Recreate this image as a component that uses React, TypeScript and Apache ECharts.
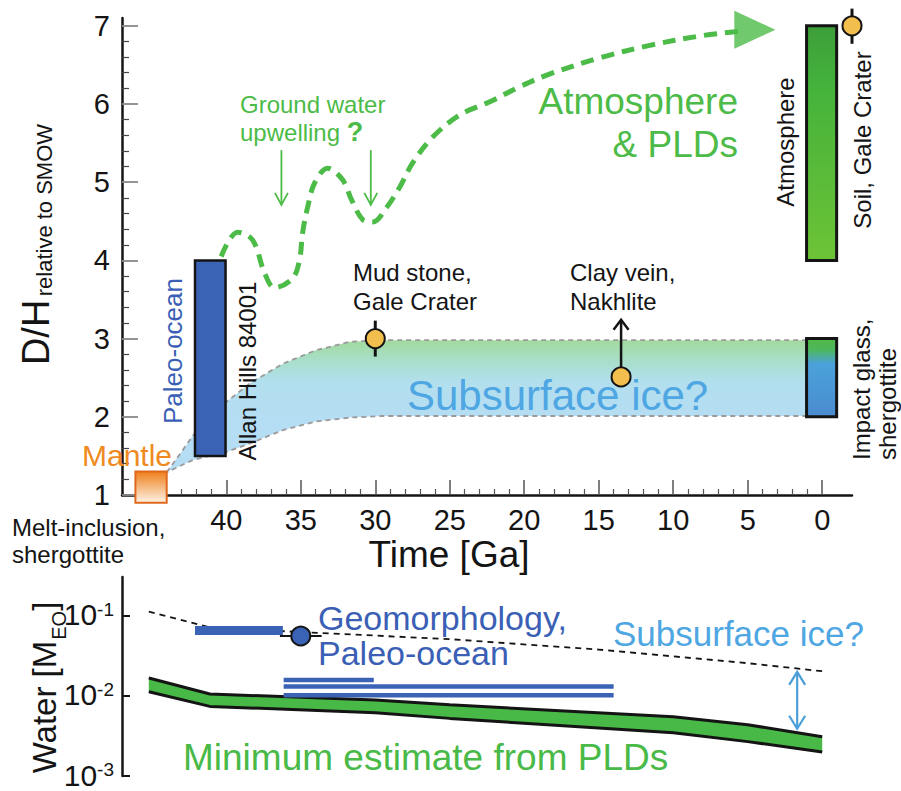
import React, { useEffect, useRef } from 'react';
import * as echarts from 'echarts';

const FONT = '"Liberation Sans", Arial, Helvetica, sans-serif';

// ================= TOP PANEL DATA (D/H relative to SMOW vs Time) =================
const timeTickLabels = [40, 35, 30, 25, 20, 15, 10, 5, 0];
const timeMinorTicks = [43, 42, 41, 39, 38, 37, 36, 34, 33, 32, 31, 29, 28, 27, 26, 24, 23, 22, 21, 19, 18, 17, 16, 14, 13, 12, 11, 9, 8, 7, 6, 4, 3, 2, 1];
const dhTickLabels = [1, 2, 3, 4, 5, 6, 7];
const dhMinorTicks = [1.2, 1.4, 1.6, 1.8, 2.2, 2.4, 2.6, 2.8, 3.2, 3.4, 3.6, 3.8, 4.2, 4.4, 4.6, 4.8, 5.2, 5.4, 5.6, 5.8, 6.2, 6.4, 6.6, 6.8];

// Reservoir boxes
const boxNames = ['Mantle', 'Paleo-ocean', 'Atmosphere', 'Impact glass'];
const boxAgeOld = [46.1, 42.1, 1.05, 1.05];
const boxAgeYoung = [44.0, 40.05, -0.97, -0.97];
const boxDHLow = [0.9, 1.5, 4.0, 2.0];
const boxDHHigh = [1.3, 4.0, 7.0, 3.0];

// Subsurface ice band
const iceBandAge = [44.0, 42.9, 42.2, 40.0, 38.4, 36.2, 34.0, 31.7, 29.5, 1.0];
const iceBandUpper = [1.29, 1.58, 1.77, 2.19, 2.43, 2.68, 2.85, 2.96, 2.98, 2.98];
const iceBandLower = [1.29, 1.39, 1.45, 1.55, 1.66, 1.83, 1.94, 1.99, 2.01, 2.01];

// Samples (circles)
const sampleNames = ['Mud stone, Gale Crater', 'Clay vein, Nakhlite', 'Soil, Gale Crater'];
const sampleAge = [30.0, 13.5, -2.0];
const sampleDH = [3.0, 2.51, 7.0];
const errAge = [30.0, -2.0];
const errLow = [2.77, 6.77];
const errHigh = [3.23, 7.22];

// Atmosphere & PLDs evolution path (dashed)
const pathAge = [40.34, 39.24, 38.23, 37.43, 36.76, 35.55, 35.08, 34.88, 34.54, 34.07, 33.2, 32.19, 31.58, 30.84, 30.17, 29.23, 28.35, 27.48, 26.13, 24.33, 22.31, 20.3, 18.49, 14.93, 11.57, 8.21, 5.53];
const pathDH = [4.05, 4.36, 4.26, 3.84, 3.65, 3.77, 4.01, 4.35, 4.68, 4.99, 5.18, 5.03, 4.77, 4.52, 4.49, 4.68, 4.94, 5.25, 5.58, 5.86, 6.03, 6.22, 6.37, 6.59, 6.75, 6.87, 6.93];
const pathTipAge = 3.18;
const pathTipDH = 6.95;

// Arrows (ground water upwelling x2, clay vein lower limit)
const arrowAge = [36.3, 30.3, 13.5];
const arrowFrom = [5.41, 5.41, 2.51];
const arrowTo = [4.71, 4.71, 3.24];

// ================= BOTTOM PANEL DATA (Water inventory) =================
const waterTicks = [0.001, 0.01, 0.1];
const pldAge = [45.2, 41.1, 30, 25, 10, 5, 0];
const pldUpper = [0.0168, 0.0106, 0.0089, 0.00776, 0.0055, 0.00437, 0.00309];
const pldLower = [0.0113, 0.00741, 0.00617, 0.00525, 0.00347, 0.00269, 0.002];
const totalAge = [45.2, 41.1, 35, 25, 15, 5, 0];
const totalWater = [0.113, 0.0718, 0.063, 0.0513, 0.038, 0.0257, 0.0204];
const geoBarAge = [42.1, 36.2];
const geoBarWater = 0.066;
const geoPointAge = 35.0;
const geoPointWater = 0.0562;
const geoPointErr = [36.4, 33.6];
const geoLineStart = [36.15, 36.15, 36.15];
const geoLineEnd = [30.1, 14.0, 14.0];
const geoLineWater = [0.0158, 0.0131, 0.0102];
const iceArrowAge = 1.68;
const iceArrowTop = 0.02;
const iceArrowBottom = 0.0039;

// ================= STYLES =================
const GREEN = '#4cbb47';
const BLUE = '#3a63b6';
const LIGHTBLUE = '#4ea6e2';
const ORANGE = '#ee8a22';
const BLACK = '#141414';

const lg = (stops: [number, string][]) =>
  new echarts.graphic.LinearGradient(0, 0, 0, 1, stops.map(([offset, color]) => ({ offset, color })));

const boxFills = [
  () => lg([[0, '#ef7f1a'], [1, '#fdf3e8']]),
  () => BLUE,
  () => lg([[0, '#3d9e3a'], [0.25, '#44b23b'], [1, '#6dc336']]),
  () => lg([[0, '#51b846'], [0.14, '#4db75c'], [0.32, '#4aa2da'], [1, '#4a8bcf']]),
];
const boxStrokes = ['#e0681c', BLACK, BLACK, BLACK];
const boxStrokeWidths = [2, 2.5, 3, 3];
const arrowColors = [GREEN, GREEN, BLACK];
const arrowWidths = [1.8, 1.8, 2.5];
const arrowHalfWidth = [6.5, 6.5, 7.5];
const arrowHeadLen = [12, 12, 10];

function arrowHead(tip: number[], ux: number, uy: number, len: number, hw: number) {
  const nx = -uy, ny = ux;
  return [
    [tip[0] - ux * len + nx * hw, tip[1] - uy * len + ny * hw],
    tip,
    [tip[0] - ux * len - nx * hw, tip[1] - uy * len - ny * hw],
  ];
}

function arrowShape(p0: number[], p1: number[], color: string, width: number, hw: number, len: number, both: boolean) {
  const dx = p1[0] - p0[0], dy = p1[1] - p0[1];
  const L = Math.hypot(dx, dy) || 1;
  const ux = dx / L, uy = dy / L;
  const st = { stroke: color, lineWidth: width, fill: 'none' };
  const children: any[] = [
    { type: 'line', shape: { x1: p0[0], y1: p0[1], x2: p1[0], y2: p1[1] }, style: st },
    { type: 'polyline', shape: { points: arrowHead(p1, ux, uy, len, hw) }, style: st },
  ];
  if (both) children.push({ type: 'polyline', shape: { points: arrowHead(p0, -ux, -uy, len, hw) }, style: st });
  return { type: 'group', children };
}

function txt(text: string, x: number, y: number, size: number, color: string, o: any = {}) {
  const align = o.align || 'left';
  const valign = o.valign || 'middle';
  return {
    type: 'text', x, y, rotation: o.rotation || 0, z: 50, silent: true,
    style: {
      text, fill: color, fontSize: size, fontFamily: FONT, fontWeight: o.weight || 'normal',
      align, verticalAlign: valign, textAlign: align, textVerticalAlign: valign,
      lineHeight: o.lineHeight, rich: o.rich,
    },
  };
}

function buildOption(): any {
  const axisLineStyle = { color: BLACK, width: 2.5 };
  const lineSeg = (xIdx: number, yIdx: number, data: number[][], color: string, width: number, type: any = 'solid', z = 4) => ({
    type: 'line', xAxisIndex: xIdx, yAxisIndex: yIdx, data, symbol: 'none', silent: true, z,
    lineStyle: { color, width, type, cap: 'butt' },
  });

  return {
    animation: false,
    backgroundColor: '#ffffff',
    textStyle: { fontFamily: FONT },
    grid: [
      { left: 122, top: 18, width: 730, height: 477, containLabel: false, outerBoundsMode: 'none' },
      { left: 122, top: 577, width: 730, height: 199, containLabel: false, outerBoundsMode: 'none' },
    ],
    xAxis: [
      {
        type: 'value', gridIndex: 0, min: -2, max: 47, inverse: true, position: 'bottom',
        name: 'Time [Ga]', nameLocation: 'middle', nameGap: 41, nameMoveOverlap: false,
        nameTextStyle: { fontSize: 37, color: BLACK, fontFamily: FONT, padding: [0, 76, 0, 0] },
        axisLine: { onZero: false, lineStyle: axisLineStyle },
        axisTick: { inside: true, length: 15, customValues: timeTickLabels, lineStyle: { color: '#555', width: 1.5 } },
        axisLabel: { customValues: timeTickLabels, fontSize: 29, color: BLACK, margin: 10, fontFamily: FONT },
        splitLine: { show: false },
      },
      {
        type: 'value', gridIndex: 0, min: -2, max: 47, inverse: true, position: 'bottom',
        axisLine: { show: false },
        axisTick: { inside: true, length: 6, customValues: timeMinorTicks, lineStyle: { color: '#555', width: 1.2 } },
        axisLabel: { show: false }, splitLine: { show: false },
      },
      { type: 'value', gridIndex: 1, min: -2, max: 47, inverse: true, show: false, splitLine: { show: false } },
    ],
    yAxis: [
      {
        type: 'value', gridIndex: 0, min: 1, max: 7.1, position: 'left',
        name: '{a|D/H} {b|relative to SMOW}', nameLocation: 'middle', nameRotate: 90, nameGap: 67, nameMoveOverlap: false,
        nameTextStyle: {
          color: BLACK, padding: [0, 0, 0, 24],
          rich: {
            a: { fontSize: 38, fontFamily: FONT, color: BLACK, verticalAlign: 'bottom' },
            b: { fontSize: 22, fontFamily: FONT, color: BLACK, verticalAlign: 'bottom' },
          },
        },
        axisLine: { onZero: false, lineStyle: axisLineStyle },
        axisTick: { inside: true, length: 16, customValues: dhTickLabels, lineStyle: { color: '#888', width: 1.8 } },
        axisLabel: { customValues: dhTickLabels, fontSize: 29, color: BLACK, margin: 12, fontFamily: FONT },
        splitLine: { show: false },
      },
      {
        type: 'value', gridIndex: 0, min: 1, max: 7.1, position: 'left',
        axisLine: { show: false, onZero: false },
        axisTick: { inside: true, length: 7, customValues: dhMinorTicks, lineStyle: { color: '#444', width: 1.2 } },
        axisLabel: { show: false }, splitLine: { show: false },
      },
      {
        type: 'log', logBase: 10, gridIndex: 1, min: 0.001, max: 0.307, position: 'left',
        name: '{a|Water [M}{s|EO}{a|]}', nameLocation: 'middle', nameRotate: 90, nameGap: 60, nameMoveOverlap: false,
        nameTextStyle: {
          color: BLACK, padding: [0, 22, 0, 0],
          rich: {
            a: { fontSize: 33, lineHeight: 34, fontFamily: FONT, color: BLACK, verticalAlign: 'top' },
            s: { fontSize: 20, lineHeight: 20, fontFamily: FONT, color: BLACK, verticalAlign: 'top', padding: [21, 0, 0, 1] },
          },
        },
        axisLine: { onZero: false, lineStyle: axisLineStyle },
        axisTick: { inside: true, length: 8, customValues: waterTicks, lineStyle: { color: BLACK, width: 2 } },
        axisLabel: {
          customValues: waterTicks, margin: 8,
          formatter: (v: number) => `{b|10}{s|${Math.round(Math.log10(v))}}`,
          rich: {
            b: { fontSize: 30, lineHeight: 32, fontFamily: FONT, color: BLACK, verticalAlign: 'top' },
            s: { fontSize: 19, lineHeight: 20, fontFamily: FONT, color: BLACK, verticalAlign: 'top' },
          },
        },
        splitLine: { show: false },
      },
    ],
    series: [
      // --- Subsurface ice band
      {
        type: 'custom', xAxisIndex: 0, yAxisIndex: 0, z: 1, silent: true,
        data: [[iceBandAge[0], iceBandUpper[0]]],
        renderItem: (_p: any, api: any) => {
          const up = iceBandAge.map((a, k) => api.coord([a, iceBandUpper[k]]));
          const lo = iceBandAge.map((a, k) => api.coord([a, iceBandLower[k]])).reverse();
          const y3 = api.coord([0, 3])[1];
          const y2 = api.coord([0, 2])[1];
          return {
            type: 'polygon', shape: { points: up.concat(lo) },
            style: {
              fill: new echarts.graphic.LinearGradient(0, y3, 0, y2, [
                { offset: 0, color: '#a1d99a' }, { offset: 0.3, color: '#a9dfcc' },
                { offset: 0.55, color: '#b2dfee' }, { offset: 1, color: '#b5ddf3' },
              ], true),
              stroke: '#9a9a9a', lineWidth: 1.8, lineDash: [5, 4],
            },
          };
        },
      },
      // --- Reservoir boxes
      {
        type: 'custom', xAxisIndex: 0, yAxisIndex: 0, z: 3, silent: true,
        encode: { x: [0, 1], y: [2, 3] },
        data: boxNames.map((n, i) => ({ name: n, value: [boxAgeOld[i], boxAgeYoung[i], boxDHLow[i], boxDHHigh[i]] })),
        renderItem: (p: any, api: any) => {
          const i = p.dataIndex;
          const a = api.coord([api.value(0), api.value(3)]);
          const b = api.coord([api.value(1), api.value(2)]);
          return {
            type: 'rect',
            shape: { x: Math.min(a[0], b[0]), y: Math.min(a[1], b[1]), width: Math.abs(b[0] - a[0]), height: Math.abs(b[1] - a[1]) },
            style: { fill: boxFills[i](), stroke: boxStrokes[i], lineWidth: boxStrokeWidths[i] },
          };
        },
      },
      // --- Atmosphere evolution dashed path
      {
        type: 'line', xAxisIndex: 0, yAxisIndex: 0, z: 4, silent: true, smooth: 0.35, symbol: 'none',
        data: pathAge.map((a, i) => [a, pathDH[i]]),
        lineStyle: { color: GREEN, width: 5, type: [13, 8] },
      },
      {
        type: 'scatter', xAxisIndex: 0, yAxisIndex: 0, z: 4, silent: true,
        data: [[pathTipAge, pathTipDH]],
        symbol: 'path://M0,0L40,19L0,38Z', symbolSize: [41, 38], symbolOffset: [-20, 0],
        itemStyle: { color: GREEN },
      },
      // --- Arrows (top)
      {
        type: 'custom', xAxisIndex: 0, yAxisIndex: 0, z: 4, silent: true,
        encode: { x: 0, y: [1, 2] },
        data: arrowAge.map((a, i) => [a, arrowFrom[i], arrowTo[i]]),
        renderItem: (p: any, api: any) => {
          const i = p.dataIndex;
          const p0 = api.coord([api.value(0), api.value(1)]);
          const p1 = api.coord([api.value(0), api.value(2)]);
          return arrowShape(p0, p1, arrowColors[i], arrowWidths[i], arrowHalfWidth[i], arrowHeadLen[i], false);
        },
      },
      // --- Error bars
      {
        type: 'custom', xAxisIndex: 0, yAxisIndex: 0, z: 5, silent: true,
        encode: { x: 0, y: [1, 2] },
        data: errAge.map((a, i) => [a, errLow[i], errHigh[i]]),
        renderItem: (_p: any, api: any) => {
          const p0 = api.coord([api.value(0), api.value(1)]);
          const p1 = api.coord([api.value(0), api.value(2)]);
          return { type: 'line', shape: { x1: p0[0], y1: p0[1], x2: p1[0], y2: p1[1] }, style: { stroke: BLACK, lineWidth: 3 } };
        },
      },
      // --- Sample circles
      {
        type: 'scatter', xAxisIndex: 0, yAxisIndex: 0, z: 6, silent: true,
        data: sampleNames.map((n, i) => ({ name: n, value: [sampleAge[i], sampleDH[i]] })),
        symbol: 'circle', symbolSize: 19,
        itemStyle: { color: '#f2bf4f', borderColor: BLACK, borderWidth: 2, opacity: 1 },
      },

      // ================= Bottom panel =================
      {
        type: 'custom', xAxisIndex: 2, yAxisIndex: 2, z: 2, silent: true,
        data: [[pldAge[0], pldUpper[0]]],
        renderItem: (_p: any, api: any) => {
          const up = pldAge.map((a, k) => api.coord([a, pldUpper[k]]));
          const lo = pldAge.map((a, k) => api.coord([a, pldLower[k]])).reverse();
          return { type: 'polygon', shape: { points: up.concat(lo) }, style: { fill: '#48b847', stroke: 'none' } };
        },
      },
      lineSeg(2, 2, pldAge.map((a, i) => [a, pldUpper[i]]), BLACK, 3, 'solid', 3),
      lineSeg(2, 2, pldAge.map((a, i) => [a, pldLower[i]]), BLACK, 3, 'solid', 3),
      lineSeg(2, 2, totalAge.map((a, i) => [a, totalWater[i]]), BLACK, 1.8, [6, 5], 3),
      lineSeg(2, 2, geoBarAge.map((a) => [a, geoBarWater]), BLUE, 9, 'solid', 4),
      lineSeg(2, 2, geoPointErr.map((a) => [a, geoPointWater]), BLACK, 2, 'solid', 4),
      ...geoLineStart.map((s, i) => lineSeg(2, 2, [[s, geoLineWater[i]], [geoLineEnd[i], geoLineWater[i]]], BLUE, 4.5, 'solid', 4)),
      {
        type: 'scatter', xAxisIndex: 2, yAxisIndex: 2, z: 6, silent: true,
        data: [[geoPointAge, geoPointWater]], symbol: 'circle', symbolSize: 19,
        itemStyle: { color: BLUE, borderColor: BLACK, borderWidth: 2, opacity: 1 },
      },
      {
        type: 'custom', xAxisIndex: 2, yAxisIndex: 2, z: 5, silent: true,
        encode: { x: 0, y: [1, 2] },
        data: [[iceArrowAge, iceArrowTop, iceArrowBottom]],
        renderItem: (_p: any, api: any) => {
          const p0 = api.coord([api.value(0), api.value(1)]);
          const p1 = api.coord([api.value(0), api.value(2)]);
          return arrowShape(p0, p1, '#4a9fd8', 2.2, 8, 13, true);
        },
      },
    ],
    graphic: {
      elements: [
        txt('Ground water\nupwelling {q|?}', 240, 118, 24, GREEN, { lineHeight: 28, rich: { q: { fontSize: 27, fontWeight: 'bold', fill: GREEN, fontFamily: FONT, lineHeight: 28 } } }),
        txt('Atmosphere\n& PLDs', 738, 123, 37, GREEN, { align: 'right', lineHeight: 43 }),
        txt('Mud stone,\nGale Crater', 353, 287, 24, BLACK, { lineHeight: 29 }),
        txt('Clay vein,\nNakhlite', 570, 287, 24, BLACK, { lineHeight: 29 }),
        txt('Subsurface ice?', 407, 395, 42, LIGHTBLUE),
        txt('Paleo-ocean', 173, 351, 26, '#3a5fb5', { align: 'center', rotation: Math.PI / 2 }),
        txt('Allan Hills 84001', 247, 371, 24, BLACK, { align: 'center', rotation: Math.PI / 2 }),
        txt('Mantle', 172, 455, 30, ORANGE, { align: 'right' }),
        txt('Melt-inclusion,\nshergottite', 12, 541, 24, BLACK, { lineHeight: 27 }),
        txt('Atmosphere', 785, 142, 24, BLACK, { align: 'center', rotation: Math.PI / 2 }),
        txt('Soil, Gale Crater', 862, 140, 24, BLACK, { align: 'center', rotation: Math.PI / 2 }),
        txt('Impact glass,\nshergottite', 874, 460, 24, BLACK, { align: 'left', rotation: Math.PI / 2, lineHeight: 26 }),
        txt('Geomorphology,\nPaleo-ocean', 318, 635, 34, '#3a5fb5', { lineHeight: 35 }),
        txt('Subsurface ice?', 613, 633, 35, LIGHTBLUE),
        txt('Minimum estimate from PLDs', 183, 757, 37, '#49b947'),
      ],
    },
  };
}

export default function App() {
  const ref = useRef<HTMLDivElement>(null);
  useEffect(() => {
    document.body.style.margin = '0';
    const chart = echarts.init(ref.current!, null, { renderer: 'svg' });
    chart.setOption(buildOption());
    return () => chart.dispose();
  }, []);
  return <div ref={ref} style={{ width: 901, height: 791 }} />;
}
